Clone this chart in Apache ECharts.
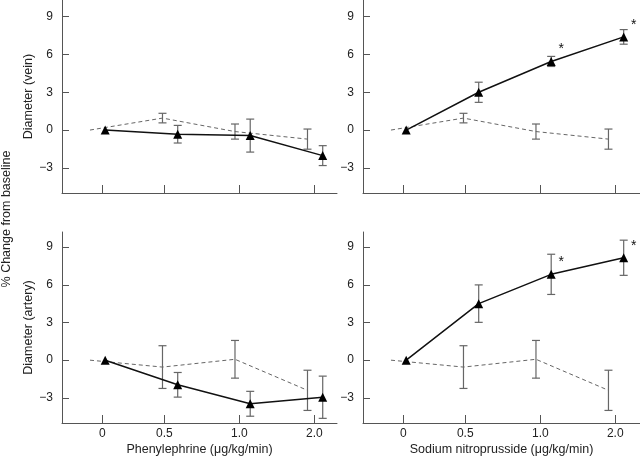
<!DOCTYPE html>
<html>
<head>
<meta charset="utf-8">
<script src="https://cdn.jsdelivr.net/npm/echarts@6/dist/echarts.min.js"></script>
<style>html,body{margin:0;padding:0;background:#fff}#c{width:640px;height:458px}</style>
</head>
<body>
<div id="c"></div>
<script>
// ---- data ----
var doseLabels = ['0', '0.5', '1.0', '2.0'];
var yTicks = [-3, 0, 3, 6, 9];

// control (dashed) series, shared
var ctrlVeinMean = [0, 0.95, -0.12, -0.72];
var ctrlVeinErr  = [null, 0.38, 0.6, 0.8];
var ctrlArtMean  = [0, -0.55, 0.07, -2.4];
var ctrlArtErr   = [null, 1.7, 1.5, 1.6];

// phenylephrine (solid)
var pheVeinMean = [0, -0.33, -0.44, -2.03];
var pheVeinErr  = [null, 0.7, 1.31, 0.79];
var pheArtMean  = [0, -1.96, -3.47, -2.95];
var pheArtErr   = [null, 0.98, 0.99, 1.68];

// sodium nitroprusside (solid)
var snpVeinMean = [0, 3.0, 5.45, 7.4];
var snpVeinErr  = [null, 0.8, 0.4, 0.58];
var snpArtMean  = [0, 4.5, 6.83, 8.15];
var snpArtErr   = [null, 1.49, 1.6, 1.4];
var snpVeinSig  = [0, 0, 1, 1];
var snpArtSig   = [0, 0, 1, 1];

// ---- layout constants ----
var tickPos = [0, 0.855, 1.89, 2.924];
var solidOff = 0.04, ctrlOff = -0.17;
var AX = '#555', TXT = '#222', FONT = 'Liberation Sans, Arial, sans-serif';

var chart = echarts.init(document.getElementById('c'));

var grids = [
  {left: 62, top: 0, width: 275, height: 193},
  {left: 363, top: 0, width: 277, height: 193},
  {left: 62, top: 232, width: 275, height: 191},
  {left: 363, top: 232, width: 277, height: 191}
];

function xAxis(i, name, max) {
  return {
    type: 'value', gridIndex: i, min: -0.556, max: max,
    name: name || '', nameLocation: 'middle', nameGap: 20,
    nameTextStyle: {color: TXT, fontSize: 12.5, fontFamily: FONT},
    axisLine: {show: true, onZero: false, lineStyle: {color: AX, width: 1}},
    axisTick: {show: true, inside: true, length: 8, customValues: tickPos, lineStyle: {color: AX}},
    axisLabel: {show: !!name, customValues: tickPos, color: TXT, fontSize: 12, fontFamily: FONT, margin: 5,
      formatter: function (v) {
        var best = 0;
        for (var k = 1; k < tickPos.length; k++) if (Math.abs(tickPos[k] - v) < Math.abs(tickPos[best] - v)) best = k;
        return doseLabels[best];
      }},
    splitLine: {show: false}
  };
}
function yAxis(i, max, name) {
  return {
    type: 'value', gridIndex: i, min: -5, max: max,
    name: name || '', nameLocation: 'middle', nameGap: 26,
    nameTextStyle: {color: TXT, fontSize: 12.5, fontFamily: FONT},
    axisLine: {show: true, onZero: false, lineStyle: {color: AX, width: 1}},
    axisTick: {show: true, inside: true, length: 7, customValues: yTicks, lineStyle: {color: AX}},
    axisLabel: {show: true, customValues: yTicks, color: TXT, fontSize: 12, fontFamily: FONT, margin: 9,
      formatter: function (v) { return v < 0 ? '\u2212' + Math.abs(v) : String(v); }},
    splitLine: {show: false}
  };
}

function pts(mean, off) {
  return mean.map(function (m, i) { return [i + off, m]; });
}
function errSeries(idx, mean, err, off) {
  var d = [];
  mean.forEach(function (m, i) { if (err[i] != null) d.push([i + off, m, err[i]]); });
  return {
    type: 'custom', xAxisIndex: idx, yAxisIndex: idx, data: d, z: 1, silent: true,
    renderItem: function (params, api) {
      var x = api.value(0), m = api.value(1), e = api.value(2);
      var hi = api.coord([x, m + e]), lo = api.coord([x, m - e]);
      var w = 4;
      var st = {stroke: '#666', lineWidth: 1.2, fill: null};
      return {type: 'group', children: [
        {type: 'line', shape: {x1: hi[0], y1: hi[1], x2: lo[0], y2: lo[1]}, style: st},
        {type: 'line', shape: {x1: hi[0] - w, y1: hi[1], x2: hi[0] + w, y2: hi[1]}, style: st},
        {type: 'line', shape: {x1: lo[0] - w, y1: lo[1], x2: lo[0] + w, y2: lo[1]}, style: st}
      ]};
    }
  };
}
function sigSeries(idx, mean, sig, off) {
  var d = [];
  mean.forEach(function (m, i) { if (sig[i]) d.push([i + off, m]); });
  return {
    type: 'custom', xAxisIndex: idx, yAxisIndex: idx, data: d, z: 5, silent: true,
    renderItem: function (params, api) {
      var p = api.coord([api.value(0), api.value(1)]);
      return {type: 'text', x: p[0] + 10, y: p[1] - 12,
        style: {text: '*', fill: '#111', font: '14px ' + FONT, textAlign: 'center', textVerticalAlign: 'middle'}};
    }
  };
}
function solidLine(idx, mean) {
  return {type: 'line', xAxisIndex: idx, yAxisIndex: idx, data: pts(mean, solidOff), z: 4,
    symbol: 'triangle', symbolSize: 9, showSymbol: true,
    itemStyle: {color: '#000'}, lineStyle: {color: '#111', width: 1.5}, animation: false};
}
function ctrlLine(idx, mean) {
  return {type: 'line', xAxisIndex: idx, yAxisIndex: idx, data: pts(mean, ctrlOff), z: 2,
    symbol: 'none', lineStyle: {color: '#666', width: 1, type: [4, 3]}, animation: false};
}

var series = [];
var panels = [
  {ctrl: ctrlVeinMean, ctrlErr: ctrlVeinErr, m: pheVeinMean, e: pheVeinErr, sig: null},
  {ctrl: ctrlVeinMean, ctrlErr: ctrlVeinErr, m: snpVeinMean, e: snpVeinErr, sig: snpVeinSig},
  {ctrl: ctrlArtMean, ctrlErr: ctrlArtErr, m: pheArtMean, e: pheArtErr, sig: null},
  {ctrl: ctrlArtMean, ctrlErr: ctrlArtErr, m: snpArtMean, e: snpArtErr, sig: snpArtSig}
];
panels.forEach(function (p, i) {
  series.push(ctrlLine(i, p.ctrl));
  series.push(errSeries(i, p.ctrl, p.ctrlErr, ctrlOff));
  series.push(errSeries(i, p.m, p.e, solidOff));
  series.push(solidLine(i, p.m));
  if (p.sig) series.push(sigSeries(i, p.m, p.sig, solidOff));
});

chart.setOption({
  animation: false,
  backgroundColor: '#fff',
  textStyle: {fontFamily: FONT},
  grid: grids,
  xAxis: [xAxis(0, '', 3.237), xAxis(1, '', 3.265), xAxis(2, 'Phenylephrine (\u03bcg/kg/min)', 3.237), xAxis(3, 'Sodium nitroprusside (\u03bcg/kg/min)', 3.265)],
  yAxis: [yAxis(0, 10.33, 'Diameter (vein)'), yAxis(1, 10.33), yAxis(2, 10.2, 'Diameter (artery)'), yAxis(3, 10.2)],
  graphic: [{
    type: 'text', x: 7, y: 219, rotation: Math.PI / 2,
    style: {text: '% Change from baseline', fill: TXT, font: '12.5px ' + FONT, textAlign: 'center', textVerticalAlign: 'middle'}
  }],
  series: series
});
</script>
</body>
</html>
